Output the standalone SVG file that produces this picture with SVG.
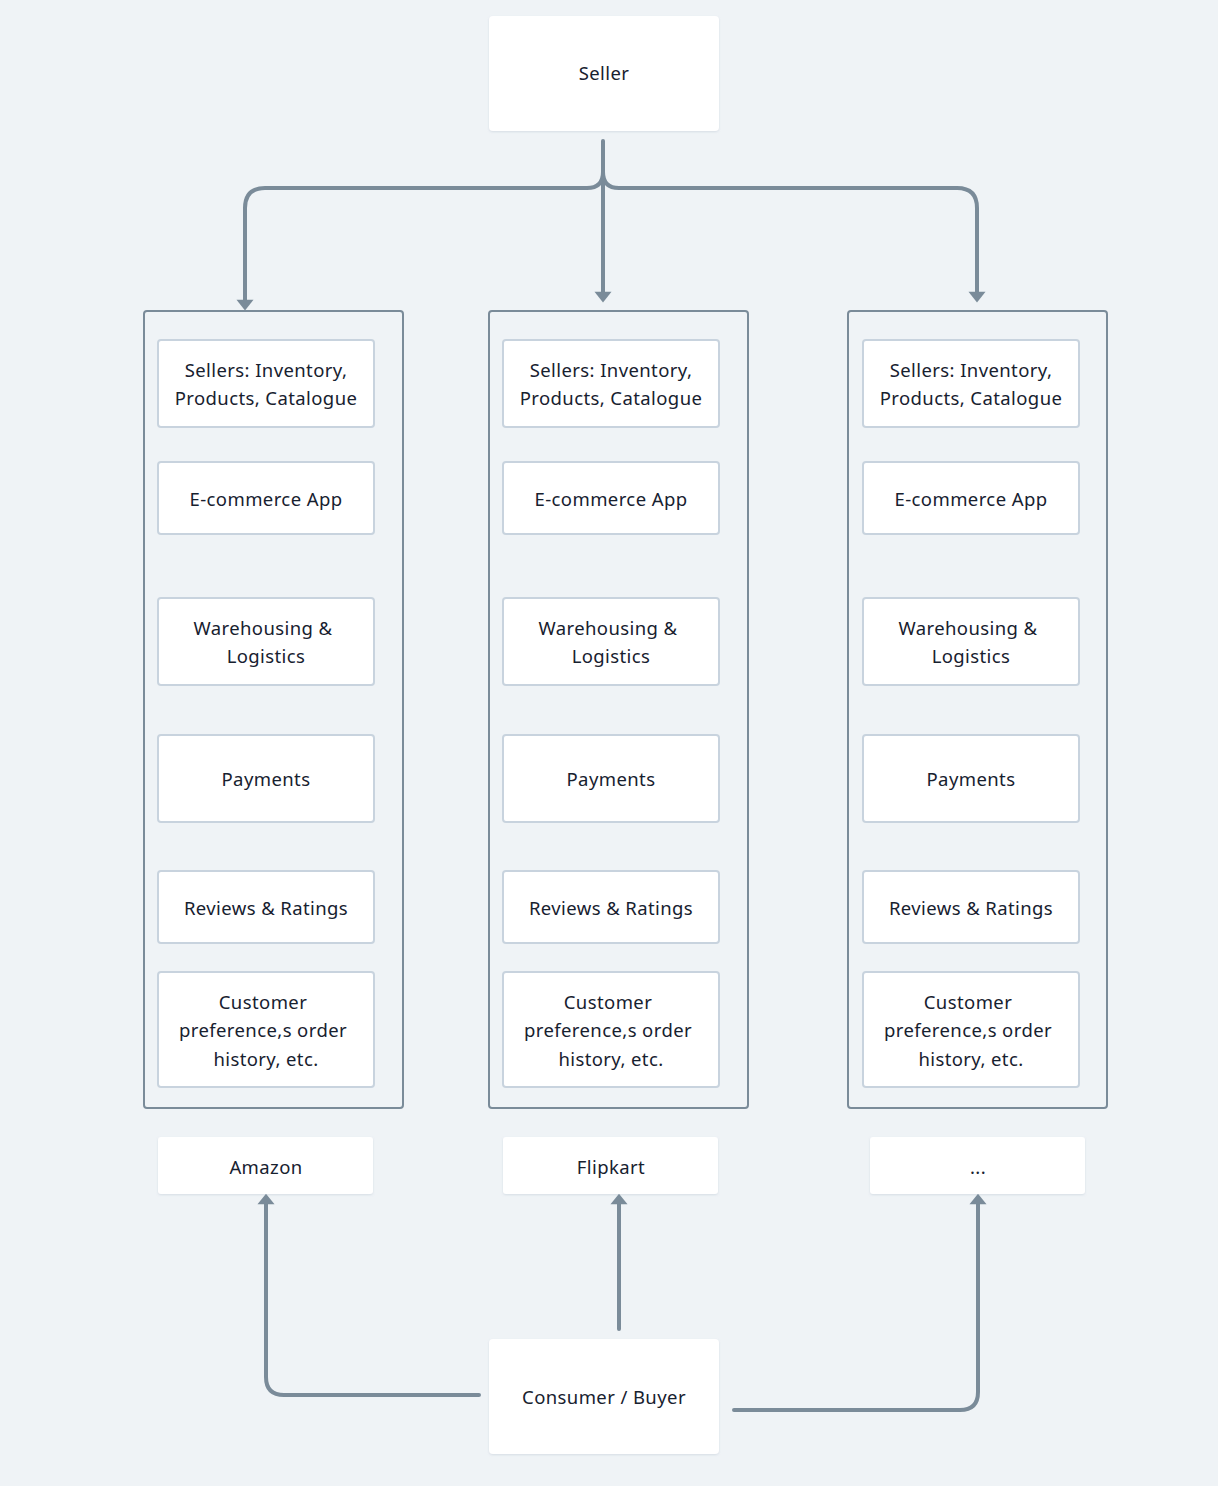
<svg xmlns="http://www.w3.org/2000/svg" width="1218" height="1486" viewBox="0 0 1218 1486">
<defs>
<marker id="ah" markerUnits="userSpaceOnUse" markerWidth="11" markerHeight="17" refX="4" refY="8" viewBox="0 0 10 16" orient="auto" overflow="visible">
<path d="M0,0 L10,8 L0,16 Z" fill="#7A8B99"/>
</marker>
<filter id="sh" x="-10%" y="-10%" width="120%" height="130%">
<feDropShadow dx="0" dy="1" stdDeviation="1.2" flood-color="#8a9bb0" flood-opacity="0.25"/>
</filter>
</defs>
<style>
.card{fill:#FFFFFF;filter:url(#sh)}
.col{fill:none;stroke:#7A8B99;stroke-width:2}
.box{fill:#FFFFFF;stroke:#C8D3DE;stroke-width:2}
.t{font-family:"Noto Sans","Liberation Sans",sans-serif;font-size:18.5px;fill:#17212F;text-anchor:middle;letter-spacing:0.4px}
.c{fill:none;stroke:#7A8B99;stroke-width:4;stroke-linecap:round;stroke-linejoin:round}
</style>
<rect width="1218" height="1486" fill="#EFF3F6"/>

<g id="connectors">
<path class="c" d="M603,141 L603,296" marker-end="url(#ah)"/>
<path class="c" d="M603,172 Q603,188 587,188 L265,188 Q245,188 245,208 L245,304" marker-end="url(#ah)"/>
<path class="c" d="M603,172 Q603,188 619,188 L957,188 Q977,188 977,208 L977,296" marker-end="url(#ah)"/>
<path class="c" d="M479,1395 L284,1395 Q266,1395 266,1377 L266,1200" marker-end="url(#ah)"/>
<path class="c" d="M619,1329 L619,1200" marker-end="url(#ah)"/>
<path class="c" d="M734,1410 L960,1410 Q978,1410 978,1392 L978,1200" marker-end="url(#ah)"/>
</g>

<g id="seller"><rect class="card" x="489" y="16" width="230" height="115" rx="4"/><text class="t" x="604" y="80">Seller</text></g>

<g id="col-amazon"><rect class="col" x="144" y="311" width="259" height="797" rx="3"/></g>
<g id="col-flipkart"><rect class="col" x="489" y="311" width="259" height="797" rx="3"/></g>
<g id="col-other"><rect class="col" x="848" y="311" width="259" height="797" rx="3"/></g>

<g id="a-sellers"><rect class="box" x="158" y="340" width="216" height="87" rx="3"/><text class="t" x="266" y="377">Sellers: Inventory,</text><text class="t" x="266" y="405">Products, Catalogue</text></g>
<g id="a-app"><rect class="box" x="158" y="462" width="216" height="72" rx="3"/><text class="t" x="266" y="506">E-commerce App</text></g>
<g id="a-wh"><rect class="box" x="158" y="598" width="216" height="87" rx="3"/><text class="t" x="263" y="635">Warehousing &amp;</text><text class="t" x="266" y="663">Logistics</text></g>
<g id="a-pay"><rect class="box" x="158" y="735" width="216" height="87" rx="3"/><text class="t" x="266" y="786">Payments</text></g>
<g id="a-rev"><rect class="box" x="158" y="871" width="216" height="72" rx="3"/><text class="t" x="266" y="915">Reviews &amp; Ratings</text></g>
<g id="a-cust"><rect class="box" x="158" y="972" width="216" height="115" rx="3"/><text class="t" x="263" y="1009">Customer</text><text class="t" x="263" y="1037">preference,s order</text><text class="t" x="266" y="1066">history, etc.</text></g>

<g id="f-sellers"><rect class="box" x="503" y="340" width="216" height="87" rx="3"/><text class="t" x="611" y="377">Sellers: Inventory,</text><text class="t" x="611" y="405">Products, Catalogue</text></g>
<g id="f-app"><rect class="box" x="503" y="462" width="216" height="72" rx="3"/><text class="t" x="611" y="506">E-commerce App</text></g>
<g id="f-wh"><rect class="box" x="503" y="598" width="216" height="87" rx="3"/><text class="t" x="608" y="635">Warehousing &amp;</text><text class="t" x="611" y="663">Logistics</text></g>
<g id="f-pay"><rect class="box" x="503" y="735" width="216" height="87" rx="3"/><text class="t" x="611" y="786">Payments</text></g>
<g id="f-rev"><rect class="box" x="503" y="871" width="216" height="72" rx="3"/><text class="t" x="611" y="915">Reviews &amp; Ratings</text></g>
<g id="f-cust"><rect class="box" x="503" y="972" width="216" height="115" rx="3"/><text class="t" x="608" y="1009">Customer</text><text class="t" x="608" y="1037">preference,s order</text><text class="t" x="611" y="1066">history, etc.</text></g>

<g id="o-sellers"><rect class="box" x="863" y="340" width="216" height="87" rx="3"/><text class="t" x="971" y="377">Sellers: Inventory,</text><text class="t" x="971" y="405">Products, Catalogue</text></g>
<g id="o-app"><rect class="box" x="863" y="462" width="216" height="72" rx="3"/><text class="t" x="971" y="506">E-commerce App</text></g>
<g id="o-wh"><rect class="box" x="863" y="598" width="216" height="87" rx="3"/><text class="t" x="968" y="635">Warehousing &amp;</text><text class="t" x="971" y="663">Logistics</text></g>
<g id="o-pay"><rect class="box" x="863" y="735" width="216" height="87" rx="3"/><text class="t" x="971" y="786">Payments</text></g>
<g id="o-rev"><rect class="box" x="863" y="871" width="216" height="72" rx="3"/><text class="t" x="971" y="915">Reviews &amp; Ratings</text></g>
<g id="o-cust"><rect class="box" x="863" y="972" width="216" height="115" rx="3"/><text class="t" x="968" y="1009">Customer</text><text class="t" x="968" y="1037">preference,s order</text><text class="t" x="971" y="1066">history, etc.</text></g>

<g id="amazon"><rect class="card" x="158" y="1137" width="215" height="57" rx="3"/><text class="t" x="266" y="1174">Amazon</text></g>
<g id="flipkart"><rect class="card" x="503" y="1137" width="215" height="57" rx="3"/><text class="t" x="611" y="1174">Flipkart</text></g>
<g id="other"><rect class="card" x="870" y="1137" width="215" height="57" rx="3"/><text class="t" x="978" y="1174">...</text></g>

<g id="consumer"><rect class="card" x="489" y="1339" width="230" height="115" rx="4"/><text class="t" x="604" y="1404">Consumer / Buyer</text></g>
</svg>
